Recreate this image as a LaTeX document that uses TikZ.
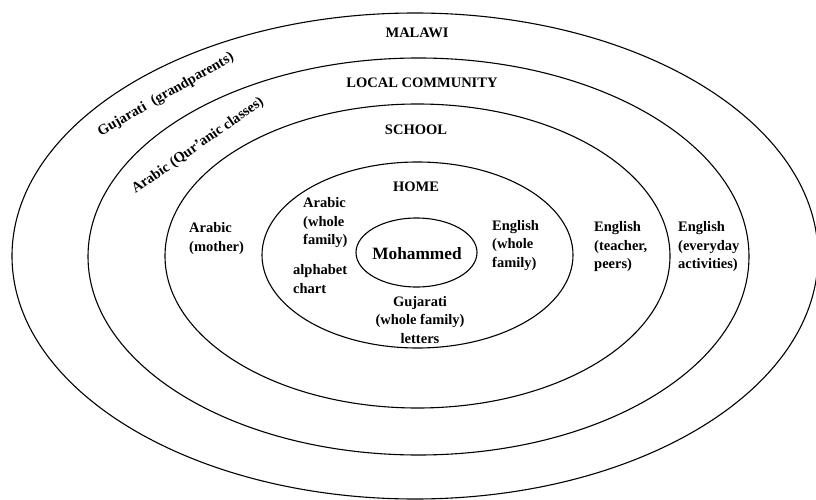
\documentclass[tikz,border=0pt]{standalone}
\usepackage{fontspec}
\setmainfont{Liberation Serif}
\usetikzlibrary{shapes.geometric}
\tikzset{
  ring/.style={draw, ellipse, line width=1.1pt, inner sep=0pt},
  lbl/.style={font=\bfseries\fontsize{14.5}{18.5}\selectfont, inner sep=0pt},
  lbll/.style={lbl, align=left, anchor=west},
  lblc/.style={lbl, align=center}
}
\begin{document}
\begin{tikzpicture}[x=1pt,y=-1pt]
\useasboundingbox (0,0) rectangle (816,500);
% rings
\node[ring, minimum width=806pt, minimum height=486pt] (malawi) at (415,256) {};
\node[ring, minimum width=661pt, minimum height=397pt] (community) at (418.5,256.5) {};
\node[ring, minimum width=505pt, minimum height=304pt] (school) at (417.5,256) {};
\node[ring, minimum width=311pt, minimum height=186pt] (home) at (417.5,255) {};
\node[ring, minimum width=121pt, minimum height=69pt] (self) at (416.5,252.5) {};
% titles
\node[lblc] (tmalawi) at (417,33) {MALAWI};
\node[lblc] (tcommunity) at (422,83) {LOCAL COMMUNITY};
\node[lblc] (tschool) at (416,130) {SCHOOL};
\node[lblc] (thome) at (416,187) {HOME};
\node[lbl, font=\bfseries\fontsize{17.3}{20}\selectfont] (tself) at (417,254) {Mohammed};
% labels
\node[lbll] (arwhole) at (303,223) {Arabic\\(whole\\family)};
\node[lbll] (alpha) at (293,279) {alphabet\\chart};
\node[lbll] (armother) at (189,238.5) {Arabic\\(mother)};
\node[lblc] (guj) at (420,320) {Gujarati\\(whole family)\\letters};
\node[lbll] (enwhole) at (492,245.5) {English\\(whole\\family)};
\node[lbll] (enteach) at (594,247) {English\\(teacher,\\peers)};
\node[lbll] (enevery) at (678,247) {English\\(everyday\\activities)};
\node[lbl, rotate=30] (gujgrand) at (166,95) {Gujarati\ \ (grandparents)};
\node[lbl, rotate=35] (arquran) at (198,146) {Arabic (Qur'anic classes)};
\end{tikzpicture}
\end{document}
